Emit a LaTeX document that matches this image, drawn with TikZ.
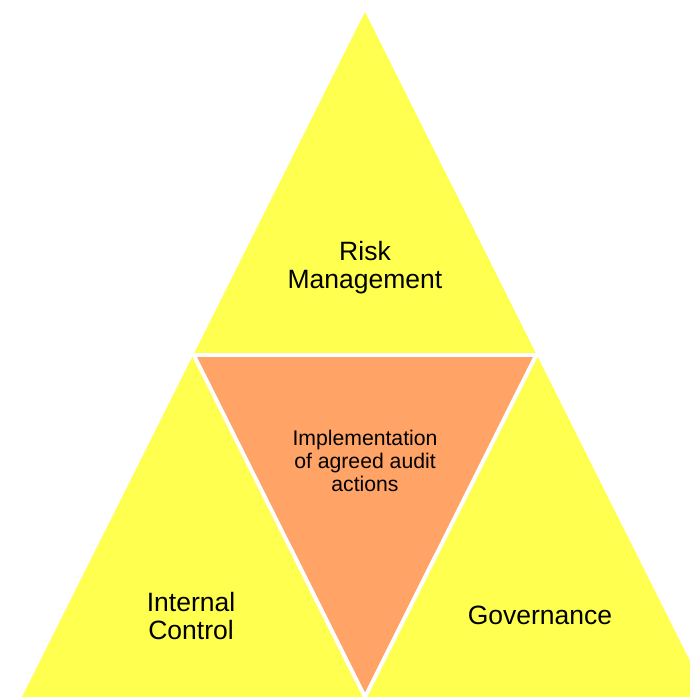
\documentclass[tikz,border=0pt]{standalone}
\usepackage{fontspec}
\setmainfont{Liberation Sans}
\definecolor{tyellow}{HTML}{FFFF4F}
\definecolor{torange}{HTML}{FFA366}
\tikzset{
  gap/.style={draw=white, line width=4pt, line cap=butt},
  biglabel/.style={align=center, font=\fontsize{26.5}{28}\selectfont, text=black, inner sep=0pt},
  smalllabel/.style={align=center, font=\fontsize{21.2}{23}\selectfont, text=black, inner sep=0pt}
}
\begin{document}
\begin{tikzpicture}[x=1pt, y=-1pt]
\useasboundingbox (0,0) rectangle (690,697);
\clip (0,0) rectangle (690,697);
\fill[white] (0,0) rectangle (690,697);
% corners
\coordinate (A) at (365,12);
\coordinate (L) at (22,697);
\coordinate (R) at (708,697);
\coordinate (ML) at (193.5,354.5);
\coordinate (MR) at (536.5,354.5);
\coordinate (MB) at (365,697);
\fill[tyellow] (A) -- (ML) -- (MR) -- cycle;
\fill[tyellow] (ML) -- (L) -- (MB) -- cycle;
\fill[tyellow] (MR) -- (MB) -- (R) -- cycle;
\fill[torange] (ML) -- (MR) -- (MB) -- cycle;
\draw[gap] (ML) -- (MR);
\draw[gap] (ML) -- (MB);
\draw[gap] (MR) -- (MB);
\node[biglabel] (risk) at (365,268) {Risk\\Management};
\node[biglabel] (ic) at (191,616) {Internal\\Control};
\node[biglabel] (gov) at (540,615) {Governance};
\node[smalllabel] (impl) at (365,461) {Implementation\\of agreed audit\\actions};
\end{tikzpicture}
\end{document}
